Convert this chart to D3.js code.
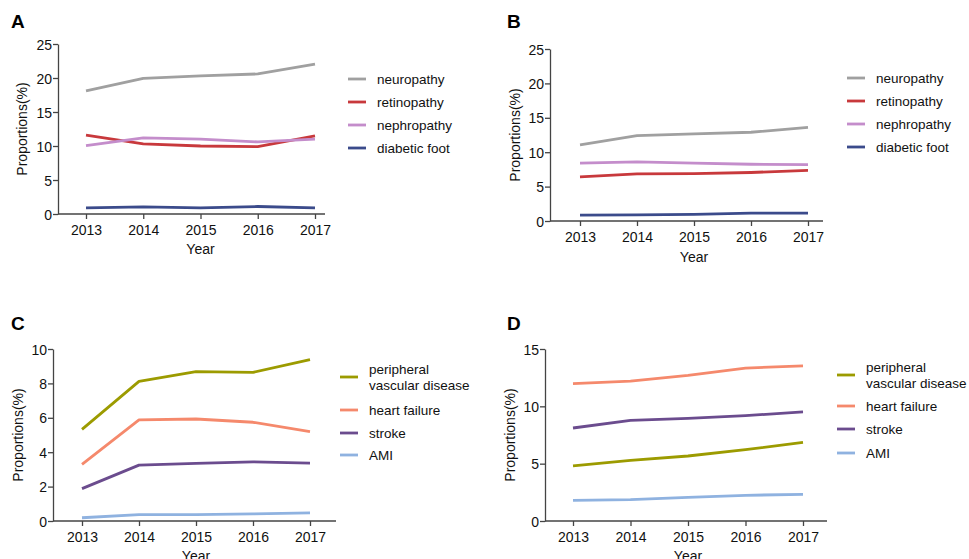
<!DOCTYPE html>
<html>
<head>
<meta charset="utf-8">
<script src="https://cdn.jsdelivr.net/npm/d3@7"></script>
<style>
  body { margin: 0; background: #fff; }
  svg { font-family: "Liberation Sans", Arial, sans-serif; }
</style>
</head>
<body>
<svg id="chart" width="969" height="559"></svg>
<script>
var years = [2013, 2014, 2015, 2016, 2017];

// panels A and B: microvascular complications
var microNames = ["neuropathy", "retinopathy", "nephropathy", "diabetic foot"];
var microColors = ["#a0a0a0", "#c8393c", "#c48dcb", "#3b4b8b"];
var neuropathyA = [18.1, 19.95, 20.3, 20.6, 22.05];
var retinopathyA = [11.6, 10.3, 10.0, 9.9, 11.5];
var nephropathyA = [10.05, 11.2, 11.0, 10.6, 11.0];
var footA = [0.9, 1.05, 0.9, 1.1, 0.9];
var neuropathyB = [11.05, 12.4, 12.65, 12.9, 13.6];
var retinopathyB = [6.4, 6.85, 6.9, 7.05, 7.35];
var nephropathyB = [8.4, 8.6, 8.4, 8.25, 8.2];
var footB = [0.85, 0.9, 0.95, 1.15, 1.15];

// panels C and D: macrovascular complications
var macroNames = ["peripheral\nvascular disease", "heart failure", "stroke", "AMI"];
var macroColors = ["#9c9b00", "#f5896c", "#6b4c8e", "#8fb2e0"];
var pvdC = [5.33, 8.12, 8.68, 8.64, 9.38];
var hfC = [3.29, 5.88, 5.93, 5.74, 5.2];
var strokeC = [1.88, 3.25, 3.35, 3.44, 3.37];
var amiC = [0.19, 0.37, 0.37, 0.41, 0.47];
var pvdD = [4.8, 5.29, 5.67, 6.22, 6.86];
var hfD = [11.98, 12.2, 12.7, 13.34, 13.52];
var strokeD = [8.11, 8.78, 8.95, 9.19, 9.51];
var amiD = [1.8, 1.86, 2.06, 2.24, 2.33];

var yTicksAB = [0, 5, 10, 15, 20, 25];
var yTicksC = [0, 2, 4, 6, 8, 10];
var yTicksD = [0, 5, 10, 15];

var svg = d3.select("#chart");
var axisColor = "#444";

var drawPanel = function (p) {
    var g = svg.append("g");
    var x = d3.scaleLinear().domain([2013, 2017]).range([p.x0, p.x1]);
    var y = d3.scaleLinear().domain([0, p.ymax]).range([p.bottom, p.top]);

    g.append("text")
        .attr("x", p.lx).attr("y", p.ly)
        .attr("font-size", 19).attr("font-weight", "bold")
        .text(p.letter);

    var xa = g.append("g")
        .attr("transform", "translate(0," + p.bottom + ")")
        .call(d3.axisBottom(x).tickValues(years).tickFormat(d3.format("d")).tickSize(5).tickSizeOuter(0));
    xa.select(".domain").remove();
    xa.append("line")
        .attr("x1", p.left).attr("x2", p.right)
        .attr("stroke", axisColor).attr("stroke-width", 1.3);

    var ya = g.append("g")
        .attr("transform", "translate(" + p.left + ",0)")
        .call(d3.axisLeft(y).tickValues(p.yticks).tickSize(5).tickSizeOuter(0));
    ya.select(".domain").attr("stroke", axisColor).attr("stroke-width", 1.3);

    g.selectAll(".tick line").attr("stroke", axisColor).attr("stroke-width", 1.3);
    g.selectAll(".tick text").attr("font-size", 14).attr("fill", "#111")
        .attr("font-family", "Liberation Sans, Arial, sans-serif");
    xa.selectAll(".tick text").attr("dy", "0.95em");
    ya.selectAll(".tick text").attr("x", -6).attr("dy", "0.36em");

    g.append("text")
        .attr("transform", "translate(" + p.ytx + "," + (p.top + p.bottom) / 2 + ") rotate(-90)")
        .attr("text-anchor", "middle").attr("dy", "0.35em")
        .attr("font-size", 14).attr("fill", "#111")
        .text("Proportions(%)");
    g.append("text")
        .attr("x", (p.x0 + p.x1) / 2).attr("y", p.xty)
        .attr("text-anchor", "middle").attr("dy", "0.35em")
        .attr("font-size", 14).attr("fill", "#111")
        .text("Year");

    var line = d3.line()
        .x(function (d, i) { return x(years[i]); })
        .y(function (d) { return y(d); });

    g.selectAll("path.series")
        .data(p.series).enter()
        .append("path")
        .attr("class", "series")
        .attr("d", line)
        .attr("fill", "none")
        .attr("stroke", function (d, i) { return p.colors[i]; })
        .attr("stroke-width", 2.8)
        .attr("stroke-linejoin", "round");

    var leg = g.selectAll("g.leg")
        .data(p.names).enter()
        .append("g")
        .attr("class", "leg")
        .attr("transform", function (d, i) { return "translate(" + p.legx + "," + p.legy[i] + ")"; });
    leg.append("line")
        .attr("x1", 0).attr("x2", 18)
        .attr("stroke", function (d, i) { return p.colors[i]; })
        .attr("stroke-width", 2.8);
    leg.each(function (d) {
        var parts = d.split("\n");
        var t = d3.select(this).append("text")
            .attr("x", 29)
            .attr("font-size", 13.5).attr("fill", "#111");
        parts.forEach(function (s, k) {
            t.append("tspan")
                .attr("x", 29)
                .attr("y", (k - (parts.length - 1) / 2) * 16)
                .attr("dy", "0.35em")
                .text(s);
        });
    });
};

drawPanel({
    letter: "A", lx: 11, ly: 28,
    left: 58, right: 325, top: 44, bottom: 214, x0: 86, x1: 315,
    ymax: 25, yticks: yTicksAB, ytx: 22, xty: 249,
    series: [neuropathyA, retinopathyA, nephropathyA, footA],
    names: microNames, colors: microColors,
    legx: 348, legy: [79, 102, 125, 148]
});
drawPanel({
    letter: "B", lx: 507, ly: 28,
    left: 550, right: 823, top: 49, bottom: 221, x0: 580, x1: 808,
    ymax: 25, yticks: yTicksAB, ytx: 515, xty: 257,
    series: [neuropathyB, retinopathyB, nephropathyB, footB],
    names: microNames, colors: microColors,
    legx: 847, legy: [78, 101, 124, 147]
});
drawPanel({
    letter: "C", lx: 11, ly: 330,
    left: 53, right: 336, top: 349, bottom: 521, x0: 82, x1: 310,
    ymax: 10, yticks: yTicksC, ytx: 18, xty: 556,
    series: [pvdC, hfC, strokeC, amiC],
    names: macroNames, colors: macroColors,
    legx: 340, legy: [377, 410, 433, 455]
});
drawPanel({
    letter: "D", lx: 507, ly: 330,
    left: 545, right: 827, top: 349, bottom: 521, x0: 573, x1: 803,
    ymax: 15, yticks: yTicksD, ytx: 510, xty: 556,
    series: [pvdD, hfD, strokeD, amiD],
    names: macroNames, colors: macroColors,
    legx: 837, legy: [375, 406, 429, 453]
});
</script>
</body>
</html>
